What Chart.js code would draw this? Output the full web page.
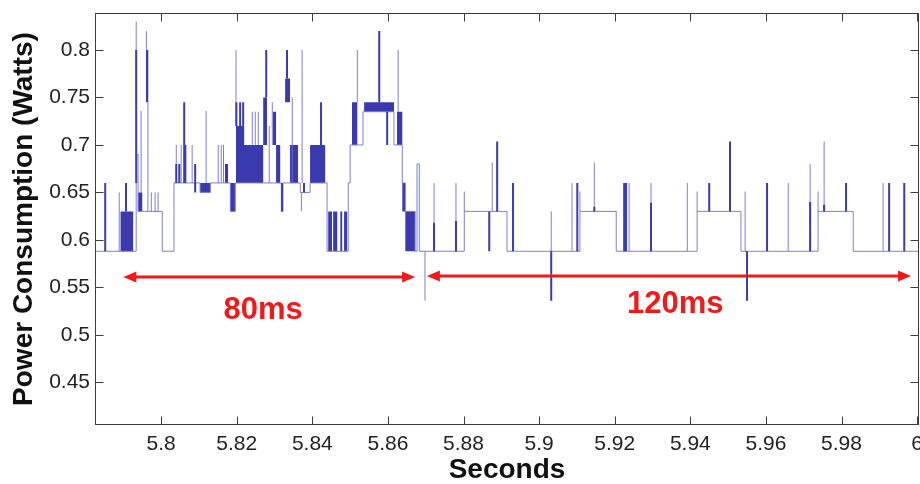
<!DOCTYPE html>
<html>
<head>
<meta charset="utf-8">
<script src="https://cdn.jsdelivr.net/npm/chart.js@4/dist/chart.umd.min.js"></script>
<style>
  html, body { margin: 0; padding: 0; background: #fff; }
  canvas { display: block; }
</style>
</head>
<body>
<canvas id="power" width="920" height="484"></canvas>
<script>
// Tick values for both axes
const xTicks = [5.8, 5.82, 5.84, 5.86, 5.88, 5.9, 5.92, 5.94, 5.96, 5.98, 6];
const yTicks = [0.45, 0.5, 0.55, 0.6, 0.65, 0.7, 0.75, 0.8];

// Power level held from each time [s, W] until the next entry
const steps = [
  [5.7825, 0.588], [5.7934, 0.69], [5.7939, 0.63], [5.8003, 0.588],
  [5.8034, 0.66], [5.8103, 0.65], [5.8130, 0.66], [5.8183, 0.63],
  [5.8196, 0.66], [5.8318, 0.63], [5.8322, 0.66], [5.8368, 0.65],
  [5.8394, 0.66], [5.8439, 0.588], [5.8495, 0.66], [5.8500, 0.70],
  [5.8534, 0.735], [5.8616, 0.70], [5.8638, 0.66], [5.8646, 0.63],
  [5.8672, 0.588], [5.8677, 0.68], [5.8683, 0.588], [5.8802, 0.63],
  [5.8915, 0.588], [5.9108, 0.63], [5.9204, 0.588], [5.9418, 0.63],
  [5.9534, 0.588], [5.9738, 0.63], [5.9831, 0.588], [6.0005, 0.588]
];

// Fast switching bursts: [start, end, low W, high W]
const bursts = [
  [5.7892, 5.7926, 0.588, 0.63], [5.7939, 5.7950, 0.63, 0.65],
  [5.7960, 5.7966, 0.745, 0.80], [5.8103, 5.8130, 0.65, 0.66],
  [5.8169, 5.8177, 0.66, 0.68], [5.8183, 5.8196, 0.63, 0.66],
  [5.8198, 5.8217, 0.66, 0.72], [5.8217, 5.8270, 0.66, 0.70],
  [5.8270, 5.8280, 0.70, 0.75], [5.8296, 5.8304, 0.70, 0.735],
  [5.8304, 5.8315, 0.66, 0.70], [5.8328, 5.8341, 0.745, 0.77],
  [5.8341, 5.8362, 0.66, 0.70], [5.8394, 5.8434, 0.66, 0.70],
  [5.8442, 5.8452, 0.588, 0.63], [5.8455, 5.8466, 0.588, 0.63],
  [5.8474, 5.8479, 0.588, 0.63], [5.8484, 5.8492, 0.588, 0.63],
  [5.8505, 5.8519, 0.70, 0.745], [5.8537, 5.8616, 0.735, 0.745],
  [5.8624, 5.8638, 0.70, 0.735], [5.8638, 5.8646, 0.63, 0.66],
  [5.8646, 5.8672, 0.588, 0.63]
];

// Short transients: [time, low W, high W]
const thinSpikes = [
  [5.7889, 0.588, 0.65], [5.7934, 0.69, 0.83], [5.7947, 0.65, 0.736],
  [5.7961, 0.80, 0.82], [5.7965, 0.63, 0.745], [5.7974, 0.63, 0.65],
  [5.7984, 0.63, 0.65], [5.7992, 0.63, 0.65], [5.8040, 0.66, 0.70],
  [5.8053, 0.66, 0.70], [5.8082, 0.66, 0.70], [5.8119, 0.66, 0.736],
  [5.8151, 0.66, 0.70], [5.8159, 0.66, 0.70], [5.8165, 0.66, 0.70],
  [5.8198, 0.72, 0.80], [5.8241, 0.70, 0.735], [5.8249, 0.70, 0.735],
  [5.8257, 0.70, 0.735], [5.8286, 0.66, 0.72], [5.8294, 0.70, 0.745],
  [5.8347, 0.66, 0.75], [5.8371, 0.63, 0.65], [5.8373, 0.66, 0.80],
  [5.8519, 0.745, 0.80], [5.8627, 0.735, 0.80], [5.8698, 0.536, 0.588],
  [5.8722, 0.588, 0.66], [5.8780, 0.588, 0.66], [5.8802, 0.63, 0.651],
  [5.8876, 0.63, 0.6815], [5.9032, 0.588, 0.63], [5.9087, 0.588, 0.66],
  [5.9108, 0.63, 0.651], [5.9146, 0.63, 0.6815], [5.9238, 0.588, 0.66],
  [5.9296, 0.588, 0.66], [5.9392, 0.588, 0.66], [5.9418, 0.63, 0.651],
  [5.9545, 0.588, 0.651], [5.9659, 0.588, 0.66], [5.9717, 0.588, 0.68],
  [5.9738, 0.63, 0.651], [5.9754, 0.63, 0.7037], [5.9910, 0.588, 0.66]
];

// Repeated transients that print darker
const boldSpikes = [
  [5.7852, 0.588, 0.66], [5.7907, 0.63, 0.66], [5.7934, 0.66, 0.80],
  [5.8040, 0.66, 0.68], [5.8048, 0.66, 0.68], [5.8061, 0.66, 0.745],
  [5.8064, 0.66, 0.70], [5.8090, 0.65, 0.68], [5.8199, 0.72, 0.745],
  [5.8209, 0.72, 0.745], [5.8217, 0.70, 0.745], [5.8278, 0.75, 0.80],
  [5.8320, 0.63, 0.66], [5.8333, 0.77, 0.80], [5.8378, 0.65, 0.66],
  [5.8423, 0.70, 0.745], [5.8577, 0.745, 0.82], [5.8598, 0.70, 0.735],
  [5.8722, 0.588, 0.618], [5.8780, 0.588, 0.62], [5.8868, 0.588, 0.63],
  [5.8889, 0.63, 0.7037], [5.8931, 0.588, 0.66], [5.9032, 0.536, 0.588],
  [5.9101, 0.588, 0.66], [5.9146, 0.63, 0.635], [5.9225, 0.588, 0.66],
  [5.9230, 0.588, 0.66], [5.9296, 0.588, 0.639], [5.9450, 0.63, 0.66],
  [5.9505, 0.63, 0.7037], [5.9550, 0.536, 0.588], [5.9603, 0.588, 0.66],
  [5.9717, 0.588, 0.64], [5.9754, 0.63, 0.637], [5.9812, 0.63, 0.66],
  [5.9926, 0.588, 0.66], [5.9966, 0.588, 0.66]
];

// Marked intervals (seconds / watts)
const spans = [
  { from: 5.7900, to: 5.8672, at: 0.561, text: '80ms', tx: 5.8270, ty: 0.5254 },
  { from: 5.8703, to: 5.9984, at: 0.562, text: '120ms', tx: 5.9360, ty: 0.5318 }
];

const FONT = "'Liberation Sans', Arial, Helvetica, sans-serif";
const fmt = v => String(+Number(v).toFixed(2));

// vertical segments separated by gaps
function segments(list) {
  const out = [];
  list.forEach(([t, lo, hi]) => {
    out.push({ x: t, y: lo }, { x: t, y: hi }, { x: t, y: null });
  });
  return out;
}

// upper and lower edges of the bursts as stepped series
const burstTop = [];
const burstBottom = [];
bursts.forEach(([t0, t1, lo, hi]) => {
  burstTop.push({ x: t0, y: hi }, { x: t1, y: lo });
  burstBottom.push({ x: t0, y: lo }, { x: t1, y: lo });
});

// box with inward ticks on all four sides, plus interval arrows
const frame = {
  id: 'frame',
  afterDatasetsDraw(chart) {
    const { ctx, scales: { x, y } } = chart;
    ctx.save();
    spans.forEach(s => {
      const x0 = x.getPixelForValue(s.from);
      const x1 = x.getPixelForValue(s.to);
      const py = y.getPixelForValue(s.at);
      const head = 13, half = 5.5;
      ctx.strokeStyle = '#f01a1a';
      ctx.fillStyle = '#f01a1a';
      ctx.lineWidth = 3;
      ctx.beginPath();
      ctx.moveTo(x0 + head - 2, py);
      ctx.lineTo(x1 - head + 2, py);
      ctx.stroke();
      ctx.beginPath();
      ctx.moveTo(x0, py);
      ctx.lineTo(x0 + head, py - half);
      ctx.lineTo(x0 + head, py + half);
      ctx.closePath();
      ctx.fill();
      ctx.beginPath();
      ctx.moveTo(x1, py);
      ctx.lineTo(x1 - head, py - half);
      ctx.lineTo(x1 - head, py + half);
      ctx.closePath();
      ctx.fill();
      ctx.font = 'bold 31px ' + FONT;
      ctx.textAlign = 'center';
      ctx.textBaseline = 'middle';
      ctx.fillText(s.text, x.getPixelForValue(s.tx), y.getPixelForValue(s.ty));
    });
    ctx.restore();
  },
  afterDraw(chart) {
    const { ctx, chartArea: a, scales: { x, y } } = chart;
    const L = Math.round(a.left) + 0.5, R = Math.round(a.right) - 0.5;
    const T = Math.round(a.top) + 0.5, B = Math.round(a.bottom) - 0.5;
    ctx.save();
    ctx.strokeStyle = '#3c3c3c';
    ctx.lineWidth = 1;
    ctx.strokeRect(L, T, R - L, B - T);
    ctx.beginPath();
    xTicks.forEach(v => {
      const px = Math.round(x.getPixelForValue(v)) + 0.5;
      ctx.moveTo(px, B); ctx.lineTo(px, B - 8);
      ctx.moveTo(px, T); ctx.lineTo(px, T + 8);
    });
    yTicks.forEach(v => {
      const py = Math.round(y.getPixelForValue(v)) + 0.5;
      ctx.moveTo(L, py); ctx.lineTo(L + 8, py);
      ctx.moveTo(R, py); ctx.lineTo(R - 8, py);
    });
    ctx.stroke();
    ctx.restore();
  }
};

new Chart(document.getElementById('power'), {
  type: 'line',
  data: {
    datasets: [
      {
        label: 'bold',
        data: segments(boldSpikes),
        borderColor: '#3b3bb2',
        borderWidth: 2,
        order: 0
      },
      {
        label: 'thin',
        data: segments(thinSpikes),
        borderColor: 'rgba(112,112,214,0.9)',
        borderWidth: 1,
        order: 1
      },
      {
        label: 'power',
        data: steps.map(([t, w]) => ({ x: t, y: w })),
        stepped: true,
        borderColor: 'rgba(120,120,216,0.95)',
        borderWidth: 1,
        order: 2
      },
      {
        label: 'burstTop',
        data: burstTop,
        stepped: true,
        borderWidth: 0,
        borderColor: 'rgba(0,0,0,0)',
        backgroundColor: '#3a3aae',
        fill: '+1',
        order: 3
      },
      {
        label: 'burstBottom',
        data: burstBottom,
        stepped: true,
        borderWidth: 0,
        borderColor: 'rgba(0,0,0,0)',
        fill: false,
        order: 4
      }
    ]
  },
  options: {
    responsive: false,
    devicePixelRatio: 1,
    animation: false,
    spanGaps: false,
    layout: { padding: { top: 13, right: 1, left: 0, bottom: 0 } },
    elements: { point: { radius: 0, hitRadius: 0 }, line: { tension: 0 } },
    plugins: { legend: { display: false }, tooltip: { enabled: false } },
    scales: {
      x: {
        type: 'linear',
        min: 5.7825,
        max: 6.0005,
        afterBuildTicks: s => { s.ticks = xTicks.map(v => ({ value: v })); },
        afterFit: s => { s.height = 59; s.paddingLeft = 0; s.paddingRight = 0; },
        grid: { display: false, drawTicks: false },
        border: { display: false },
        ticks: {
          callback: fmt,
          autoSkip: false,
          maxRotation: 0,
          padding: 7,
          color: '#222',
          font: { family: FONT, size: 21 }
        },
        title: {
          display: true,
          text: 'Seconds',
          color: '#111',
          padding: 0,
          font: { family: FONT, size: 28, weight: 'bold', lineHeight: 1 }
        }
      },
      y: {
        min: 0.405,
        max: 0.839,
        afterBuildTicks: s => { s.ticks = yTicks.map(v => ({ value: v })); },
        afterFit: s => { s.width = 95; s.paddingTop = 0; s.paddingBottom = 0; },
        grid: { display: false, drawTicks: false },
        border: { display: false },
        ticks: {
          callback: fmt,
          padding: 5,
          color: '#222',
          font: { family: FONT, size: 21 }
        },
        title: {
          display: true,
          text: 'Power Consumption (Watts)',
          color: '#111',
          padding: { top: 10, bottom: 0 },
          font: { family: FONT, size: 28, weight: 'bold', lineHeight: 1 }
        }
      }
    }
  },
  plugins: [frame]
});
</script>
</body>
</html>
